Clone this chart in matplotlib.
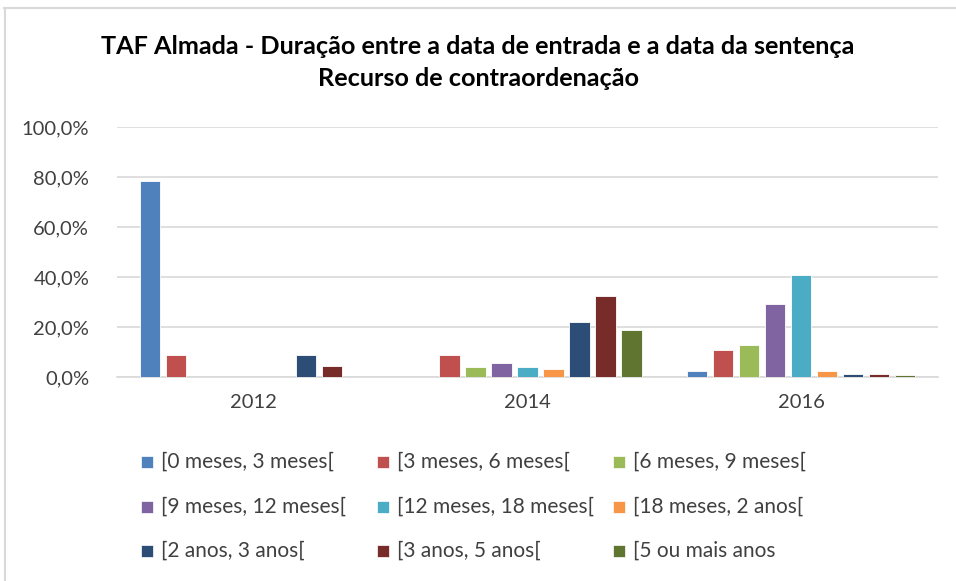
import matplotlib
matplotlib.use("Agg")
import matplotlib.pyplot as plt
from matplotlib.patches import Rectangle
from matplotlib.lines import Line2D
import numpy as np

plt.rcParams['font.family'] = ['Lato', 'DejaVu Sans']

years = ["2012", "2014", "2016"]
series_labels = [
    "[0 meses, 3 meses[",
    "[3 meses, 6 meses[",
    "[6 meses, 9 meses[",
    "[9 meses, 12 meses[",
    "[12 meses, 18 meses[",
    "[18 meses, 2 anos[",
    "[2 anos, 3 anos[",
    "[3 anos, 5 anos[",
    "[5 ou mais anos",
]
# values (%) per series: [2012, 2014, 2016]
s_0_3m = [78.4, 0.0, 2.3]
s_3_6m = [8.9, 9.0, 10.9]
s_6_9m = [0.0, 4.2, 12.9]
s_9_12m = [0.0, 5.8, 29.3]
s_12_18m = [0.0, 4.2, 40.7]
s_18m_2a = [0.0, 3.2, 2.3]
s_2_3a = [8.9, 22.2, 1.2]
s_3_5a = [4.4, 32.6, 1.2]
s_5plus = [0.0, 19.0, 0.7]
series_values = [s_0_3m, s_3_6m, s_6_9m, s_9_12m, s_12_18m, s_18m_2a, s_2_3a, s_3_5a, s_5plus]

colors = ["#4F81BD", "#C0504D", "#9BBB59", "#8064A2", "#4BACC6",
          "#F79646", "#2C4D75", "#772C2A", "#5F7530"]
yticks = [0, 20, 40, 60, 80, 100]

W, H = 956, 581
fig = plt.figure(figsize=(W / 100, H / 100), dpi=100)

# axes placement (pixels)
left, right, top, bottom = 117, 938, 127, 377
ax = fig.add_axes([left / W, 1 - bottom / H, (right - left) / W, (bottom - top) / H])

n = len(series_values)
x = np.arange(len(years))
slot = 0.095
barw = 0.075
for i, (vals, c) in enumerate(zip(series_values, colors)):
    ax.bar(x + (i - (n - 1) / 2) * slot, vals, width=barw, color=c,
           edgecolor="white", linewidth=0.6, zorder=3)

ax.set_xlim(-0.5, len(years) - 0.5)
ax.set_ylim(0, 100)
ax.set_yticks(yticks)
ax.set_yticklabels([f"{v:.1f}%".replace(".", ",") for v in yticks],
                   fontsize=14.5, color="#404040")
ax.set_xticks(x)
ax.set_xticklabels(years, fontsize=14.5, color="#404040")
ax.tick_params(axis="both", length=0)
ax.tick_params(axis="x", pad=12)
ax.tick_params(axis="y", pad=20)
ax.grid(axis="y", color="#D9D9D9", linewidth=1.2, zorder=0)
for sp in ["top", "right", "left"]:
    ax.spines[sp].set_visible(False)
ax.spines["bottom"].set_color("#D9D9D9")
ax.spines["bottom"].set_linewidth(1.2)

# title
fig.text(478 / W, 1 - 47 / H, "TAF Almada - Duração entre a data de entrada e a data da sentença",
         ha="center", va="center", fontsize=18.2, fontweight="bold", color="#000000")
fig.text(478 / W, 1 - 79 / H, "Recurso de contraordenação",
         ha="center", va="center", fontsize=18.2, fontweight="bold", color="#000000")

# legend (manual, Excel-like layout)
col_x = [141, 377, 613]
row_y = [462, 507, 551]
sq = 12
for i, (lab, c) in enumerate(zip(series_labels, colors)):
    r, cidx = divmod(i, 3)
    x0 = col_x[cidx]
    y0 = row_y[r]
    fig.patches.append(Rectangle((x0 / W, 1 - (y0 + sq / 2) / H), sq / W, sq / H,
                                 transform=fig.transFigure, facecolor=c,
                                 edgecolor="white", linewidth=0.5))
    fig.text((x0 + 20) / W, 1 - y0 / H, lab, ha="left", va="center",
             fontsize=15, color="#404040")

# chart border (top and left light gray lines)
fig.lines.append(Line2D([4 / W, 1], [1 - 8 / H, 1 - 8 / H], transform=fig.transFigure,
                        color="#D9D9D9", linewidth=1.5))
fig.lines.append(Line2D([5 / W, 5 / W], [1 - 8 / H, 0], transform=fig.transFigure,
                        color="#D9D9D9", linewidth=1.5))

fig.savefig("out.png", dpi=100)
